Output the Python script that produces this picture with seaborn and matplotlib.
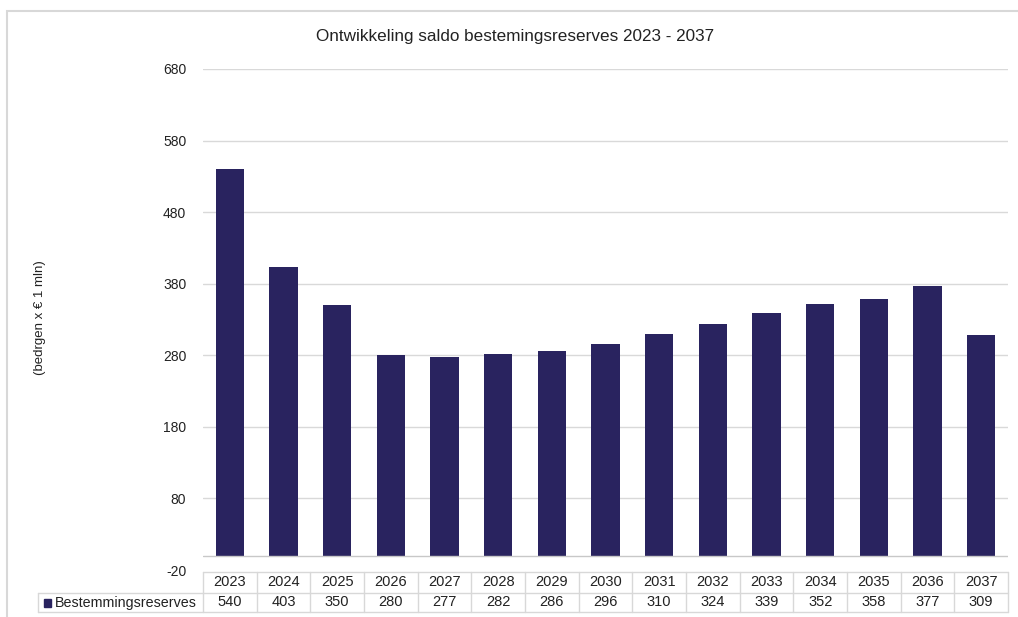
import matplotlib
matplotlib.use("Agg")
import matplotlib.pyplot as plt
import matplotlib.transforms as mtransforms
from matplotlib.patches import Rectangle
from matplotlib.lines import Line2D
import seaborn as sns
import pandas as pd

# data
years = ["2023", "2024", "2025", "2026", "2027", "2028", "2029", "2030",
         "2031", "2032", "2033", "2034", "2035", "2036", "2037"]
saldo = [540, 403, 350, 280, 277, 282, 286, 296, 310, 324, 339, 352, 358, 377, 309]
series_name = "Bestemmingsreserves"
title = "Ontwikkeling saldo bestemingsreserves 2023 - 2037"
ylabel = "(bedrgen x € 1 mln)"
yticks = [-20, 80, 180, 280, 380, 480, 580, 680]

bar_color = "#29235f"
grid_color = "#d9d9d9"
table_color = "#d8d8d8"
text_color = "#222222"

sns.set_theme(style="white")
plt.rcParams['font.family'] = ['Liberation Sans', 'DejaVu Sans']

df = pd.DataFrame({"jaar": years, "saldo": saldo})

W, H = 1018, 617
fig = plt.figure(figsize=(W / 100, H / 100), dpi=100)
ax = fig.add_axes([203 / W, 1 - 570 / H, 805 / W, 501 / H])

sns.barplot(data=df, x="jaar", y="saldo", order=years, color=bar_color,
            width=0.53, saturation=1, ax=ax, zorder=3, linewidth=0)

ax.set_xlim(-0.5, len(years) - 0.5)
ax.set_ylim(-20, 680)
ax.set_yticks(yticks)
ax.set_yticklabels([str(t) for t in yticks], fontsize=10, color=text_color)
ax.tick_params(axis="y", length=0, pad=12)
ax.set_xticks([])
ax.set_xlabel("")
ax.set_ylabel("")
for s in ax.spines.values():
    s.set_visible(False)
for t in yticks[1:]:
    ax.axhline(t, color=grid_color, lw=1, zorder=1)
ax.axhline(0, color="#c8c8c8", lw=1, zorder=4)

fig.text(515 / W, 1 - 37 / H, title, ha="center", va="center", fontsize=12.3,
         color=text_color)
fig.text(40 / W, 1 - 318 / H, ylabel, ha="center", va="center", rotation=90,
         fontsize=9.5, color=text_color)

# chart border
fig.add_artist(Rectangle((7 / W, -0.05), 1.1, 1 - 11 / H + 0.05,
                         transform=fig.transFigure, fill=False,
                         edgecolor="#d8d8d8", lw=1.5))

# data table below the plot
trans = mtransforms.blended_transform_factory(ax.transData, fig.transFigure)
y_top, y_mid, y_bot = 1 - 572 / H, 1 - 593 / H, 1 - 612 / H
x_left = -0.5 - (203 - 38) / (805 / len(years))
n = len(years)

def hline(x0, x1, y):
    ax.add_line(Line2D([x0, x1], [y, y], transform=trans, color=table_color,
                       lw=1, clip_on=False))

def vline(x, y0, y1):
    ax.add_line(Line2D([x, x], [y0, y1], transform=trans, color=table_color,
                       lw=1, clip_on=False))

hline(-0.5, n - 0.5, y_top)
hline(x_left, n - 0.5, y_mid)
hline(x_left, n - 0.5, y_bot)
for i in range(n + 1):
    vline(i - 0.5, y_bot, y_top)
vline(x_left, y_bot, y_mid)

for i, (yr, v) in enumerate(zip(years, saldo)):
    ax.text(i, (y_top + y_mid) / 2, yr, transform=trans, ha="center",
            va="center", fontsize=10.5, color=text_color, clip_on=False)
    ax.text(i, (y_mid + y_bot) / 2, str(v), transform=trans, ha="center",
            va="center", fontsize=10.5, color=text_color, clip_on=False)

fig.add_artist(Rectangle((44 / W, 1 - 607 / H), 7 / W, 8 / H,
                         transform=fig.transFigure, color=bar_color))
fig.text(55 / W, (y_mid + y_bot) / 2, series_name, ha="left", va="center",
         fontsize=10.3, color=text_color)

fig.savefig("out.png", dpi=100)
